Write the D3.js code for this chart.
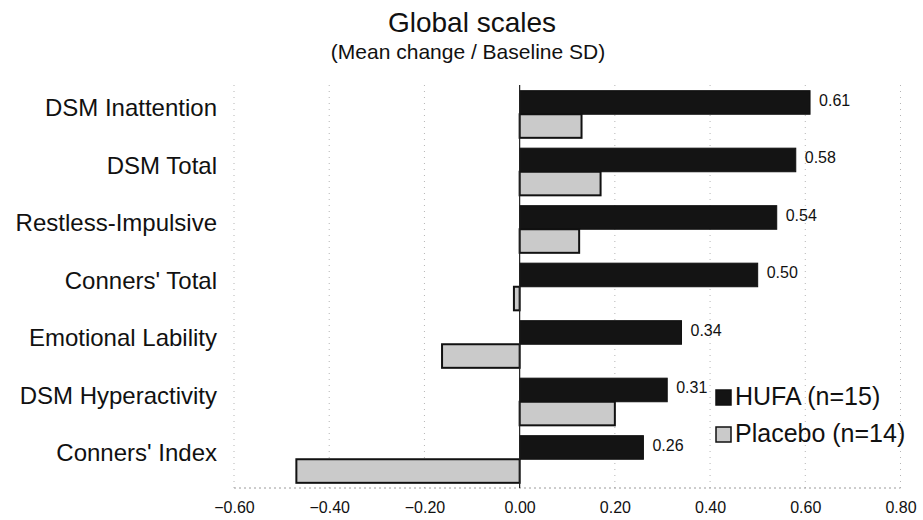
<!DOCTYPE html>
<html>
<head>
<meta charset="utf-8">
<script src="https://cdn.jsdelivr.net/npm/d3@7/dist/d3.min.js"></script>
<style>
  html, body { margin: 0; padding: 0; background: #fff; }
  svg { display: block; font-family: "Liberation Sans", Arial, sans-serif; }
</style>
</head>
<body>
<svg id="chart" width="923" height="520"></svg>
<script>
// Effect sizes (mean change / baseline SD) per rating scale
const categories = [
  "DSM Inattention",
  "DSM Total",
  "Restless-Impulsive",
  "Conners' Total",
  "Emotional Lability",
  "DSM Hyperactivity",
  "Conners' Index"
];
const seriesNames = ["HUFA (n=15)", "Placebo (n=14)"];
const hufaValues    = [0.61, 0.58, 0.54, 0.50, 0.34, 0.31, 0.26];
const placeboValues = [0.13, 0.17, 0.125, -0.012, -0.163, 0.20, -0.469];
const tickValues = [-0.60, -0.40, -0.20, 0.00, 0.20, 0.40, 0.60, 0.80];

const svg = d3.select("#chart");

const x = d3.scaleLinear().domain([-0.6, 0.8]).range([234, 900.5]);
const y = d3.scaleBand().domain(categories).range([85.5, 488])
  .paddingInner(0.18).paddingOuter(0.09);
const ySeries = d3.scaleBand().domain(seriesNames).range([0, y.bandwidth()]);

const fills = { "HUFA (n=15)": "#141414", "Placebo (n=14)": "#cacaca" };

const rows = categories.map((c, i) => ({
  category: c,
  values: [
    { series: seriesNames[0], value: hufaValues[i] },
    { series: seriesNames[1], value: placeboValues[i] }
  ]
}));

// Title
svg.append("text").attr("x", 472).attr("y", 32).attr("text-anchor", "middle")
  .attr("font-size", 28).attr("fill", "#111").text("Global scales");
svg.append("text").attr("x", 468).attr("y", 59).attr("text-anchor", "middle")
  .attr("font-size", 21).attr("fill", "#111").text("(Mean change / Baseline SD)");

// Dotted gridlines and plot-area frame
const grid = svg.append("g");
grid.selectAll("line.v").data(tickValues.filter(t => t !== 0)).join("line")
  .attr("x1", d => x(d)).attr("x2", d => x(d))
  .attr("y1", 85).attr("y2", 488)
  .attr("stroke", "#b5b5b5").attr("stroke-width", 1)
  .attr("stroke-dasharray", "1,5");
grid.append("line").attr("x1", x(-0.6)).attr("x2", x(0.8))
  .attr("y1", 488).attr("y2", 488)
  .attr("stroke", "#9a9a9a").attr("stroke-dasharray", "2,3");

// Bars
const groups = svg.append("g").selectAll("g").data(rows).join("g")
  .attr("transform", d => `translate(0,${y(d.category)})`);

groups.selectAll("rect").data(d => d.values).join("rect")
  .attr("x", d => x(Math.min(0, d.value)))
  .attr("y", d => ySeries(d.series))
  .attr("width", d => Math.abs(x(d.value) - x(0)))
  .attr("height", ySeries.bandwidth())
  .attr("fill", d => fills[d.series])
  .attr("stroke", "#111")
  .attr("stroke-width", d => d.series === seriesNames[1] ? 2 : 1);

// Value labels on the HUFA bars
groups.append("text")
  .attr("x", d => x(d.values[0].value) + 9)
  .attr("y", ySeries(seriesNames[0]) + ySeries.bandwidth() / 2)
  .attr("dy", "0.2em")
  .attr("font-size", 16).attr("fill", "#111")
  .text(d => d3.format(".2f")(d.values[0].value));

// Zero line
svg.append("line").attr("x1", x(0)).attr("x2", x(0))
  .attr("y1", 85).attr("y2", 488)
  .attr("stroke", "#222").attr("stroke-width", 1.2);

// Category labels
svg.append("g").selectAll("text").data(categories).join("text")
  .attr("x", 217)
  .attr("y", d => y(d) + y.bandwidth() / 2 + 2)
  .attr("text-anchor", "end")
  .attr("font-size", 24).attr("fill", "#111")
  .text(d => d);

// X axis tick labels
const xAxis = d3.axisBottom(x).tickValues(tickValues)
  .tickFormat(d3.format(".2f")).tickSize(0).tickPadding(0);
const axisG = svg.append("g").attr("transform", "translate(0,502)").call(xAxis);
axisG.select(".domain").remove();
axisG.selectAll("text").attr("font-size", 16).attr("fill", "#111")
  .attr("font-family", "Liberation Sans, Arial, sans-serif");

// Legend
const legend = svg.append("g").selectAll("g").data(seriesNames).join("g")
  .attr("transform", (d, i) => `translate(716,${390 + i * 37})`);
legend.append("rect").attr("width", 15).attr("height", 15)
  .attr("fill", d => fills[d]).attr("stroke", "#111").attr("stroke-width", 1.5);
legend.append("text").attr("x", 19).attr("y", 15)
  .attr("font-size", 25).attr("fill", "#111").text(d => d);
</script>
</body>
</html>
